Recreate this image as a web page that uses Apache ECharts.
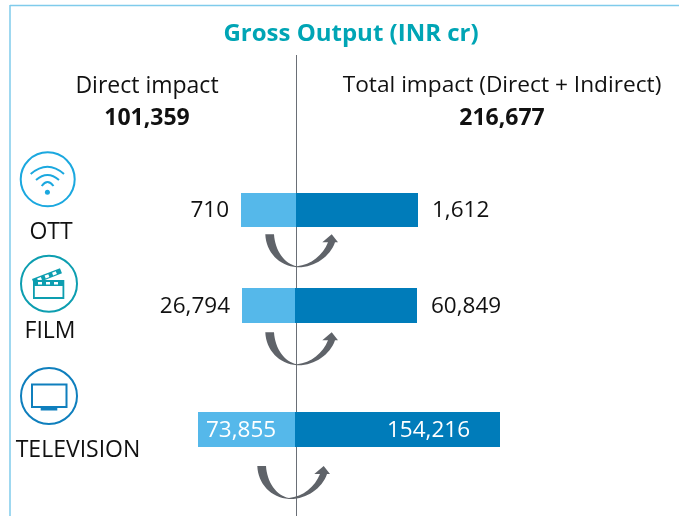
<!DOCTYPE html>
<html>
<head>
<meta charset="utf-8">
<style>
  html, body { margin: 0; padding: 0; background: #fff; }
  #chart { width: 679px; height: 516px; }
</style>
</head>
<body>
<div id="chart"></div>
<script src="https://cdn.jsdelivr.net/npm/echarts@6/dist/echarts.min.js"></script>
<script>
const categories = ['OTT', 'FILM', 'TELEVISION']
const directValues = [710, 26794, 73855]
const totalValues = [1612, 60849, 154216]
// the source bars are not to scale with their labels, so lengths are read off the picture
const directLengths = [55, 53, 97]
const totalLengths = [122, 122, 205]
const titleText = 'Gross Output (INR cr)'
const directTitle = 'Direct impact'
const totalTitle = 'Total impact (Direct + Indirect)'
const directSum = 101359
const totalSum = 216677

const FONT = '"Open Sans", sans-serif'
const INK = '#111'
const fmt = v => v.toLocaleString('en-US')

// layout of each row
const rows = [
  { top: 193, height: 34, zero: 296, inside: false, labelX: 51, labelY: 232 },
  { top: 288, height: 35, zero: 295, inside: false, labelX: 50, labelY: 331 },
  { top: 412, height: 35, zero: 295, inside: true, labelX: 78, labelY: 450 }
]

const grids = [], xAxes = [], yAxes = [], series = []
rows.forEach((row, i) => {
  grids.push({ left: 0, width: 679, top: row.top, height: row.height })
  xAxes.push({ gridIndex: i, type: 'value', min: -row.zero, max: 679 - row.zero, show: false })
  yAxes.push({ gridIndex: i, type: 'category', data: [categories[i]], show: false })
  series.push({
    type: 'bar', xAxisIndex: i, yAxisIndex: i, stack: 'row' + i, barWidth: '100%',
    data: [-directLengths[i]],
    itemStyle: { color: '#55b8ea' },
    label: {
      show: true, fontFamily: FONT, fontSize: 22.5, offset: [0, 1],
      position: row.inside ? 'insideLeft' : 'left',
      distance: row.inside ? 8 : 12,
      color: row.inside ? '#fff' : INK,
      formatter: () => fmt(directValues[i])
    }
  })
  series.push({
    type: 'bar', xAxisIndex: i, yAxisIndex: i, stack: 'row' + i, barWidth: '100%',
    data: [totalLengths[i]],
    itemStyle: { color: '#007cba' },
    label: {
      show: true, fontFamily: FONT, fontSize: 22.5, offset: [0, 1],
      position: row.inside ? 'insideRight' : 'right',
      distance: row.inside ? 30 : 14,
      color: row.inside ? '#fff' : INK,
      formatter: () => fmt(totalValues[i])
    }
  })
})

const text = (x, y, str, size, opts = {}) => ({
  type: 'text', x, y,
  style: {
    text: str, fontFamily: FONT, fontSize: size, fontWeight: opts.bold ? 700 : 400,
    fill: opts.color || INK, align: 'center', verticalAlign: 'middle'
  }
})

// graphic only knows registered shapes, so the hand drawn ones are registered here
let shapeId = 0
const pathShape = d => {
  const name = 'iconPath' + shapeId++
  echarts.graphic.registerShape(name, echarts.graphic.extendPath(d, {}))
  return name
}

const arrowType = pathShape('M265.3 234.3 L274 234.3 C275 250 284 264 297 266.3 C311 265 323 255 328 242.3 ' +
  'L322.3 242.3 L331.7 234.3 L338 242.3 L335 242.3 C330 257 314 268 297 267.3 C279 266 266 252 265.3 234.3 Z')
const arrow = (x, y) => ({ type: arrowType, x, y, z: 1, style: { fill: '#5f6369' } })

const ring = (cx, cy, r, color) => ({
  type: 'circle', shape: { cx, cy, r },
  style: { fill: '#fff', stroke: color, lineWidth: 2 }
})
const stroke = (d, color, w) => ({
  type: pathShape(d),
  style: { fill: 'none', stroke: color, lineWidth: w }
})
const box = (x, y, width, height, color) => ({
  type: 'rect', shape: { x, y, width, height }, style: { fill: color }
})
// clapper stick pieces turn around its lower left corner
const stick = (x, y, width, height, color) => ({
  ...box(x, y, width, height, color), rotation: 0.37, originX: 34, originY: 284.2
})

const ottColor = '#1ba8df'
const filmColor = '#0d9eb0'
const tvColor = '#0f7fbd'

const graphic = [
  // frame
  { type: 'line', shape: { x1: 10, y1: 5.5, x2: 679, y2: 5.5 }, style: { stroke: '#7fcbeb', lineWidth: 1.5 } },
  { type: 'line', shape: { x1: 10, y1: 5, x2: 10, y2: 516 }, style: { stroke: '#7fcbeb', lineWidth: 1.5 } },
  // centre line
  { type: 'line', z: 0, shape: { x1: 296.5, y1: 55, x2: 296.5, y2: 516 }, style: { stroke: '#6a6f76', lineWidth: 1 } },
  text(351, 34, titleText, 24, { bold: true, color: '#00a5b5' }),
  text(147, 86, directTitle, 23),
  text(147, 118, fmt(directSum), 23, { bold: true }),
  text(502, 86, totalTitle, 22.7),
  text(502, 118, fmt(totalSum), 23, { bold: true }),
  ...rows.map((row, i) => text(row.labelX, row.labelY, categories[i], 23)),
  arrow(0, 0), arrow(0, 98), arrow(-8, 231.7),
  // OTT icon
  ring(47.7, 179.3, 27, ottColor),
  stroke('M30.7 174 Q47.5 159.5 64 174', ottColor, 2),
  stroke('M36 180 Q47.5 170 59 180', ottColor, 2),
  stroke('M41.7 186 Q47.5 178 53.5 186', ottColor, 2),
  { type: 'circle', shape: { cx: 47.4, cy: 192.3, r: 2.5 }, style: { fill: ottColor } },
  // film icon
  ring(49, 283.7, 28, filmColor),
  stick(34, 278.7, 30, 5.5, filmColor),
  stick(39, 280, 4, 3, '#fff'), stick(47, 280, 4, 3, '#fff'), stick(55, 280, 4, 3, '#fff'),
  { type: 'rect', shape: { x: 33.9, y: 281, width: 29.5, height: 17 }, style: { fill: '#fff', stroke: filmColor, lineWidth: 1.8 } },
  box(33, 280.5, 30, 5.5, filmColor),
  box(38, 282, 4, 2.5, '#fff'), box(46, 282, 4, 2.5, '#fff'), box(54, 282, 4, 2.5, '#fff'),
  // television icon
  ring(49, 396, 28, tvColor),
  { type: 'rect', shape: { x: 32, y: 384.5, width: 34.5, height: 22.5 }, style: { fill: '#fff', stroke: tvColor, lineWidth: 2 } },
  box(40.7, 407.5, 16.6, 3, tvColor)
]

const chart = echarts.init(document.getElementById('chart'))
chart.setOption({
  animation: false,
  grid: grids,
  xAxis: xAxes,
  yAxis: yAxes,
  series,
  graphic
})
</script>
</body>
</html>
